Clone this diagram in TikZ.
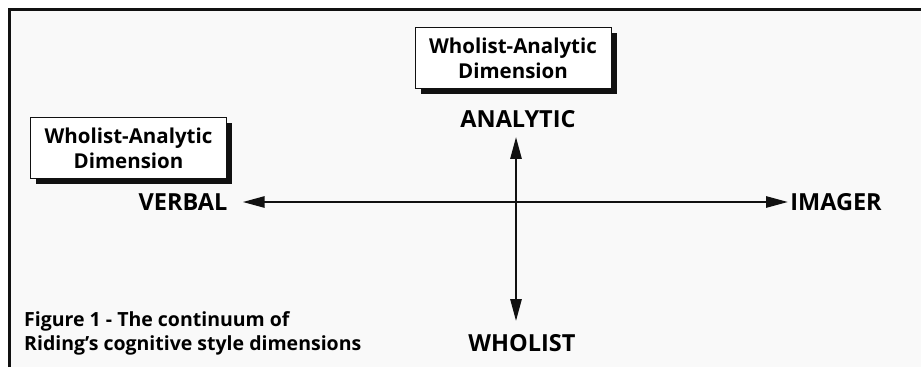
\documentclass[tikz,border=0pt]{standalone}
\usepackage{fontspec}
\setmainfont{Open Sans}
\usepackage{xcolor}
\usetikzlibrary{arrows.meta,positioning,shadows}

\definecolor{panelgray}{HTML}{F9F9F9}
\definecolor{inkblack}{HTML}{111111}

\tikzset{
  dimbox/.style={draw=inkblack, line width=0.8pt, fill=white, align=center,
    minimum width=196pt, minimum height=61pt, inner sep=0pt,
    font=\bfseries\fontsize{20.5}{25}\selectfont,
    general shadow={shadow xshift=5.5pt, shadow yshift=-5.5pt, fill=inkblack}},
  pole/.style={font=\bfseries\fontsize{23.5}{24}\selectfont, inner sep=0pt},
  dimarrow/.style={{Triangle[length=22pt,width=11pt]}-{Triangle[length=22pt,width=11pt]},
    line width=2.6pt, draw=inkblack}
}

\begin{document}
\begin{tikzpicture}[x=1pt,y=-1pt]
\useasboundingbox (0,0) rectangle (921,367);
% panel and frame
\fill[panelgray] (9,9) rectangle (921,367);
\draw[inkblack, line width=3pt] (9,367) -- (9,9) -- (921,9);

% the two boxes
\node[dimbox] (topdim) at (513,58) {Wholist-Analytic\\Dimension};
\node[dimbox] (leftdim) at (128.5,148) {Wholist-Analytic\\Dimension};

% poles of the two dimensions
\node[pole] (analytic) at (518,119) {ANALYTIC};
\node[pole] (wholist)  at (522,343) {WHOLIST};
\node[pole] (verbal)   at (183,202) {VERBAL};
\node[pole] (imager)   at (836,202) {IMAGER};

% arrows
\draw[dimarrow, shorten <=15pt, shorten >=2pt] (verbal.east) -- (imager.west);
\draw[dimarrow, shorten <=9pt, shorten >=13pt] ([xshift=-2pt]analytic.south) -- ([xshift=-2pt]analytic.south |- wholist.north);

% caption
\node[anchor=north west, align=left, inner sep=0pt,
  font=\bfseries\fontsize{19.5}{24}\selectfont] (caption) at (24,311)
  {Figure 1 - The continuum of\\Riding’s cognitive style dimensions};
\end{tikzpicture}
\end{document}
